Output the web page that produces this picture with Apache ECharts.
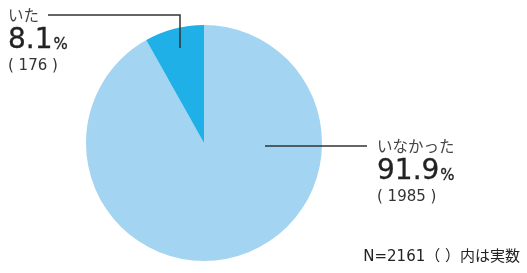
<!DOCTYPE html>
<html>
<head>
<meta charset="utf-8">
<script src="https://cdn.jsdelivr.net/npm/echarts@6/dist/echarts.min.js"></script>
<style>
  html, body { margin: 0; padding: 0; background: #fff; }
  #main { width: 527px; height: 273px; }
</style>
</head>
<body>
<div id="main"></div>
<script>
// data
var names = ['いなかった', 'いた'];
var counts = [1985, 176];
var percents = ['91.9', '8.1'];
var colors = ['#a3d4f1', '#1eb0e6'];
var note = 'N=2161（ ）内は実数';

var chart = echarts.init(document.getElementById('main'));

var FONT = '"Noto Sans CJK JP", sans-serif';
var NUMFONT = '"DejaVu Sans", "Noto Sans CJK JP", sans-serif';

var pieData = names.map(function (n, i) {
  return { name: n, value: counts[i], itemStyle: { color: colors[i] } };
});

// where each label and its leader line go
var labelPos = [
  { x: 377, y: 135, line: [[265, 146], [367, 146]] },
  { x: 8, y: 4, line: [[180, 48], [180, 15], [48, 15]] }
];

var pieBase = {
  type: 'pie',
  center: [204, 143],
  radius: 118,
  startAngle: 90,
  clockwise: true,
  silent: true,
  itemStyle: { borderWidth: 0 }
};

var option = {
  backgroundColor: '#fff',
  animation: false,
  title: {
    text: note,
    right: 2,
    bottom: 3,
    textStyle: { fontFamily: NUMFONT, fontSize: 15, fontWeight: 'normal', color: '#222' }
  },
  series: [
    echarts.util.merge({
      z: 2,
      data: pieData,
      label: { show: false },
      labelLine: { show: false }
    }, pieBase),
    // same pie again, transparent, so the leader lines sit above the slices
    echarts.util.merge({
      z: 3,
      data: names.map(function (n, i) {
        return { name: n, value: counts[i], itemStyle: { color: 'rgba(0,0,0,0)' } };
      }),
      label: {
        show: true,
        position: 'outside',
        fontFamily: FONT,
        formatter: function (p) {
          return '{name|' + p.name + '}\n{big|' + percents[p.dataIndex] + '}{pct|%}\n{cnt|( ' + counts[p.dataIndex] + ' )}';
        },
        rich: {
          name: { fontFamily: FONT, fontSize: 15.5, color: '#444', lineHeight: 22 },
          big: { fontFamily: NUMFONT, fontSize: 28, color: '#222', lineHeight: 30, textBorderColor: '#222', textBorderWidth: 0.3 },
          pct: { fontFamily: NUMFONT, fontSize: 15, color: '#222', lineHeight: 30, verticalAlign: 'bottom', padding: [0, 0, 3, 1], textBorderColor: '#222', textBorderWidth: 0.3 },
          cnt: { fontFamily: NUMFONT, fontSize: 15, color: '#333', lineHeight: 20 }
        }
      },
      labelLine: {
        show: true,
        lineStyle: { color: '#333', width: 1.5 }
      },
      labelLayout: function (params) {
        var lp = labelPos[params.dataIndex];
        return {
          x: lp.x,
          y: lp.y,
          align: 'left',
          verticalAlign: 'top',
          labelLinePoints: lp.line
        };
      }
    }, pieBase)
  ]
};

chart.setOption(option);
</script>
</body>
</html>
